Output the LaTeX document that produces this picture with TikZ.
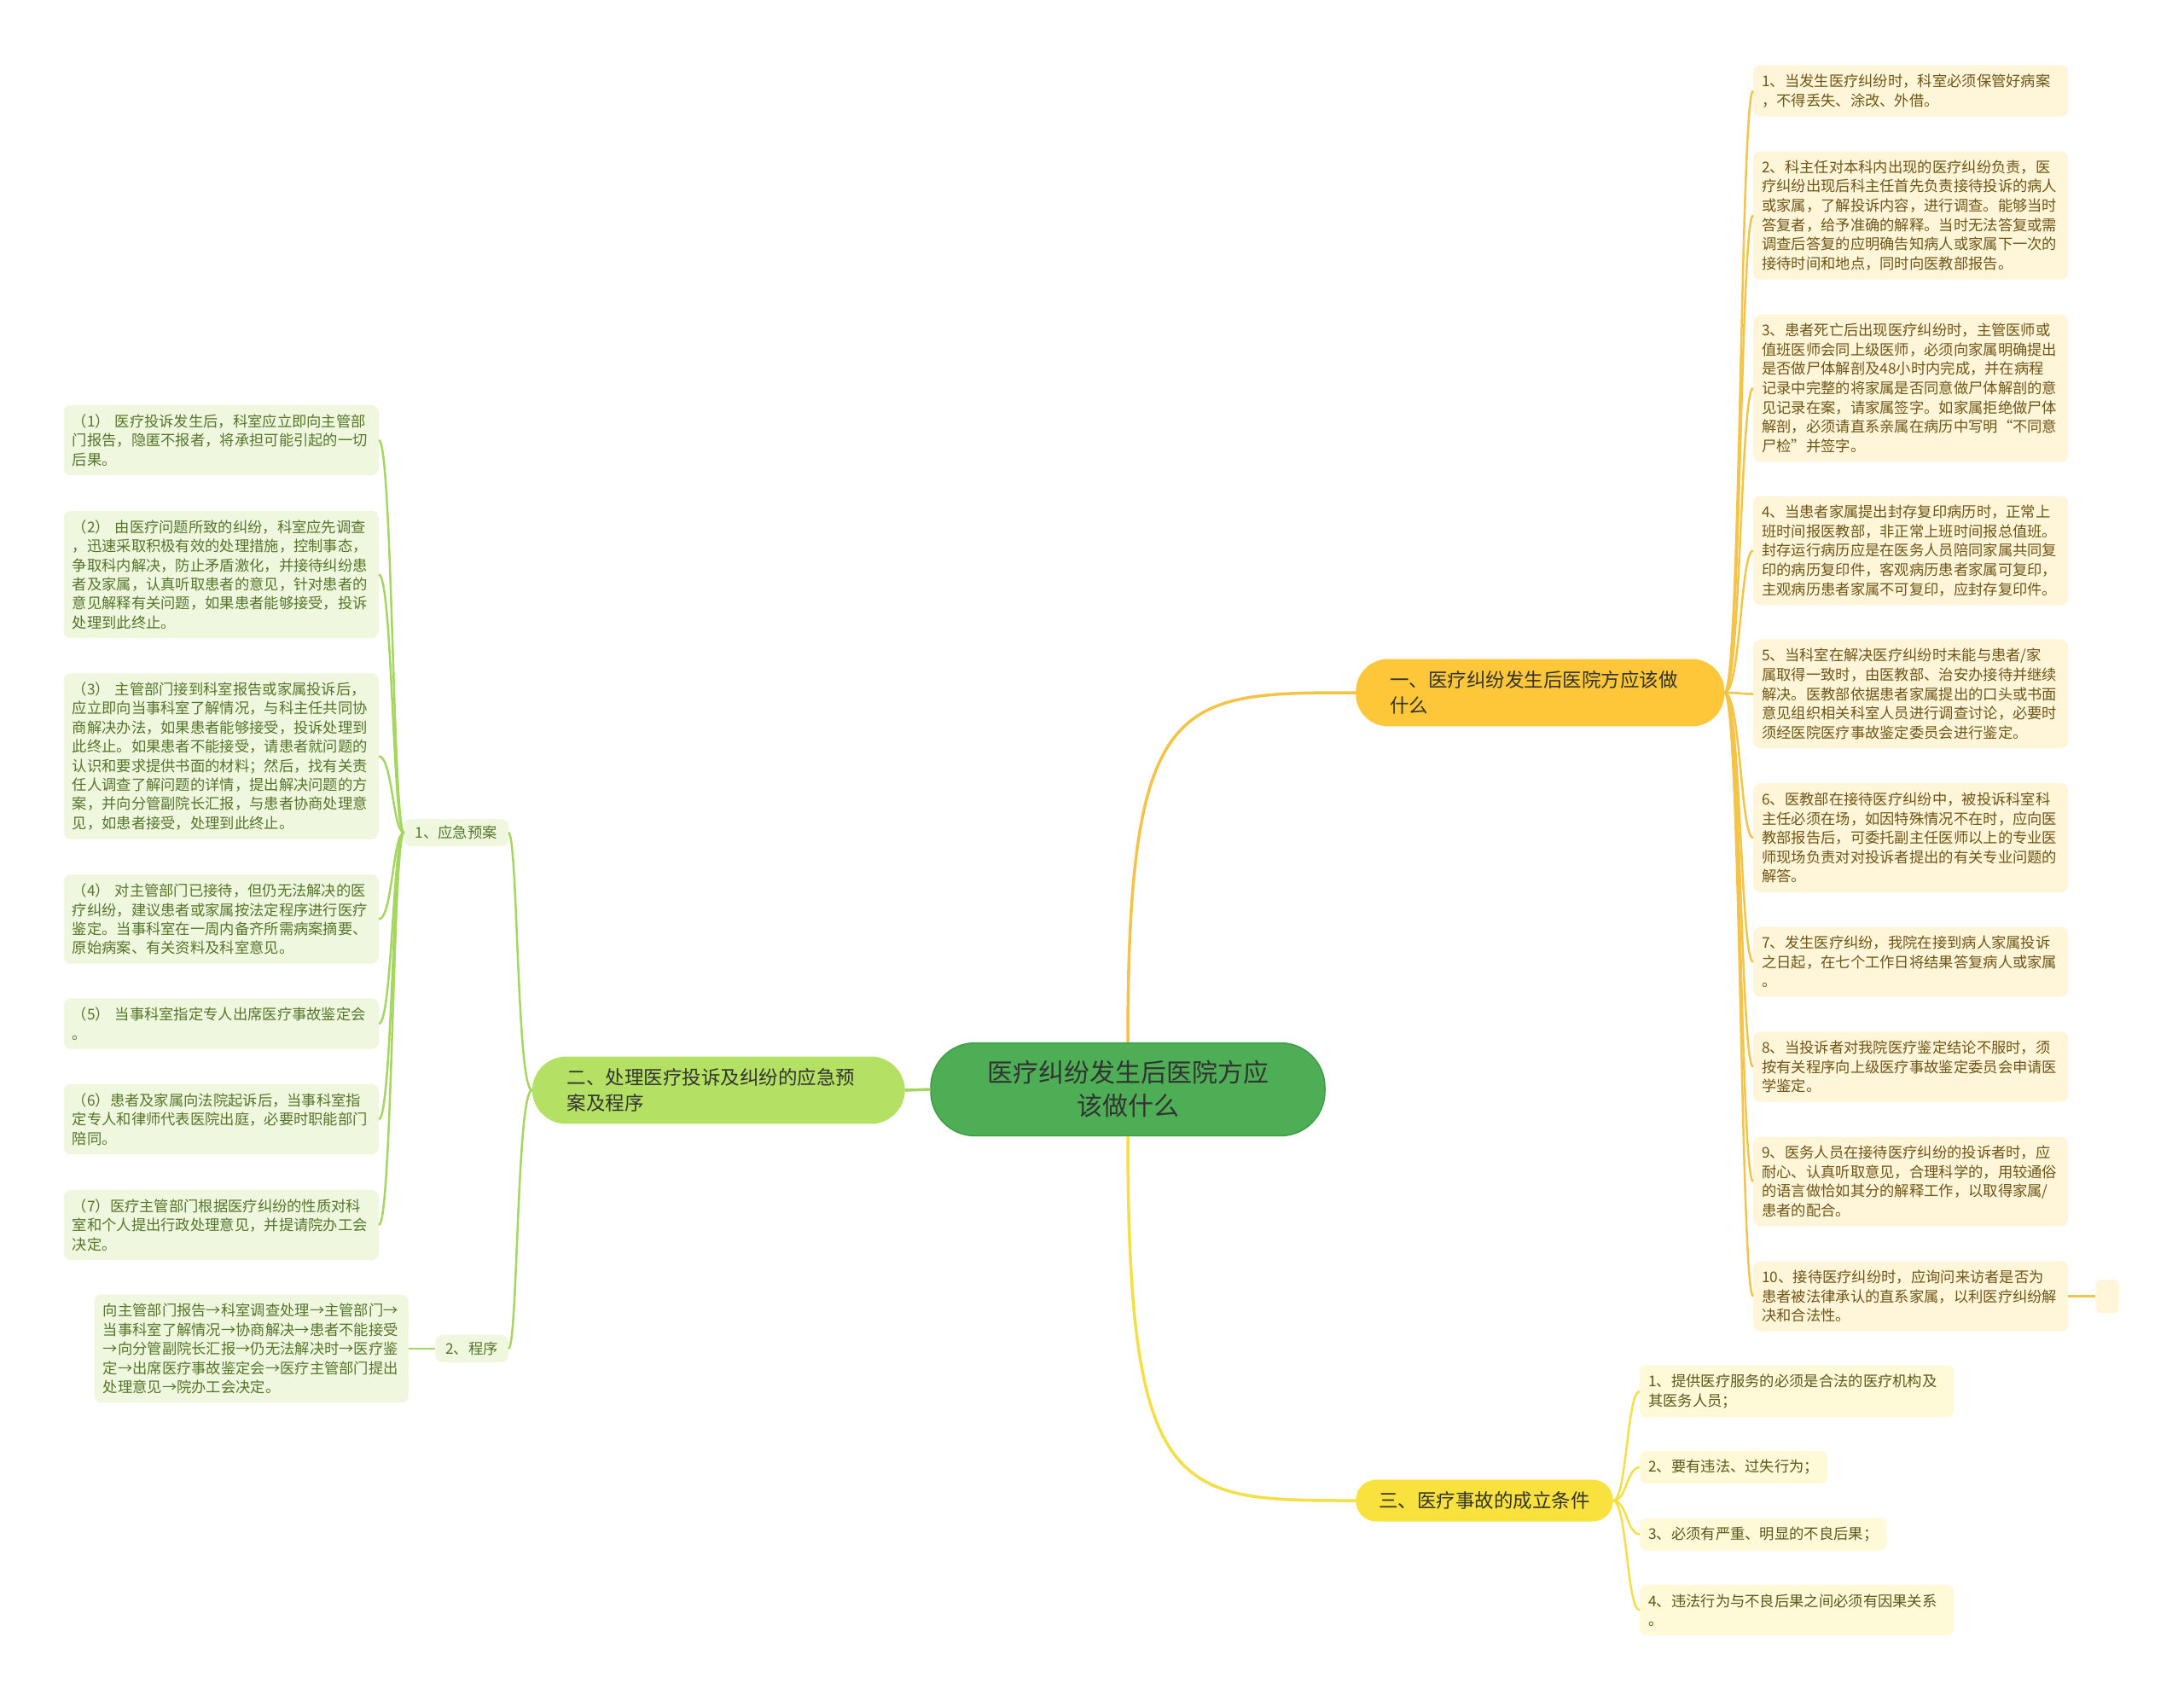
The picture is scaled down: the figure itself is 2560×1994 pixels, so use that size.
\documentclass[tikz,border=0pt]{standalone}
\usepackage{fontspec}
\newfontfamily\cjk{Noto Sans CJK SC}
\definecolor{rootgreen}{HTML}{4EAE55}
\definecolor{rootline}{HTML}{3F9C47}
\definecolor{bragreen}{HTML}{B4E163}
\definecolor{braorange}{HTML}{FEC73A}
\definecolor{brayellow}{HTML}{F9E23D}
\definecolor{leaforange}{HTML}{FFF5D9}
\definecolor{leafgreen}{HTML}{EFF8DE}
\definecolor{leafyellow}{HTML}{FEF9D6}
\definecolor{txtbrown}{HTML}{6E5616}
\definecolor{txtgreen}{HTML}{56752A}
\definecolor{txtolive}{HTML}{5B581C}
\definecolor{txtdark}{HTML}{333333}
\definecolor{lineorange}{HTML}{F3C447}
\definecolor{linegreen}{HTML}{A5D65F}
\definecolor{lineyellow}{HTML}{F4DF45}
\begin{document}
\begin{tikzpicture}[x=1pt,y=-1pt,
    rootbox/.style={fill=rootgreen,draw=rootline,line width=1.5pt,rounded corners=52pt,inner xsep=66pt,inner ysep=21pt,align=center,text=txtdark,font=\cjk\fontsize{30}{39}\selectfont},
    bra/.style={inner xsep=40pt,inner ysep=14pt,align=left,text=txtdark,font=\cjk\fontsize{22.5}{30}\selectfont},
    leafo/.style={anchor=west,fill=leaforange,text=txtbrown,rounded corners=8pt,inner xsep=10pt,inner ysep=10.5pt,text width=349pt,align=left,font=\cjk\fontsize{17.3}{22.6}\selectfont},
    leafg/.style={anchor=east,fill=leafgreen,text=txtgreen,rounded corners=8pt,inner xsep=10pt,inner ysep=10.5pt,align=left,font=\cjk\fontsize{17.3}{22.4}\selectfont},
    leafy/.style={anchor=west,fill=leafyellow,text=txtolive,rounded corners=8pt,inner xsep=10pt,inner ysep=10.5pt,align=left,font=\cjk\fontsize{17.3}{22.4}\selectfont},
    lineo/.style={draw=lineorange,line width=2.5pt},
    lineg/.style={draw=linegreen,line width=2.5pt},
    liney/.style={draw=lineyellow,line width=2.5pt}]
  \path[use as bounding box,fill=white] (0,0) rectangle (2560,1994);

  % root and main branches
  \node[rootbox] (root) at (1322,1277) {医疗纠纷发生后医院方应\\该做什么};
  \node[bra,anchor=west,fill=braorange,rounded corners=38pt,text width=352pt] (b1) at (1589,812) {一、医疗纠纷发生后医院方应该做\\什么};
  \node[bra,anchor=east,fill=bragreen,rounded corners=40pt,text width=355pt,inner xsep=41pt] (b2) at (1061,1278) {二、处理医疗投诉及纠纷的应急预\\案及程序};
  \node[bra,anchor=west,fill=brayellow,rounded corners=24pt,inner xsep=27pt] (b3) at (1589,1759) {三、医疗事故的成立条件};

  \draw[draw=lineorange,line width=3.5pt] (root.north) .. controls +(0,-409) and +(-209,0) .. (b1.west);
  \draw[draw=linegreen,line width=3.5pt] (root.west) -- (b2.east);
  \draw[draw=lineyellow,line width=3.5pt] (root.south) .. controls +(0,427) and +(-209,0) .. (b3.west);

  % right column
  \node[leafo] (r1) at (2055,106.5) {1、当发生医疗纠纷时，科室必须保管好病案\\，不得丢失、涂改、外借。};
  \node[leafo] (r2) at (2055,252.5) {2、科主任对本科内出现的医疗纠纷负责，医\\疗纠纷出现后科主任首先负责接待投诉的病人\\或家属，了解投诉内容，进行调查。能够当时\\答复者，给予准确的解释。当时无法答复或需\\调查后答复的应明确告知病人或家属下一次的\\接待时间和地点，同时向医教部报告。};
  \node[leafo] (r3) at (2055,455) {3、患者死亡后出现医疗纠纷时，主管医师或\\值班医师会同上级医师，必须向家属明确提出\\是否做尸体解剖及48小时内完成，并在病程\\记录中完整的将家属是否同意做尸体解剖的意\\见记录在案，请家属签字。如家属拒绝做尸体\\解剖，必须请直系亲属在病历中写明“不同意\\尸检”并签字。};
  \node[leafo] (r4) at (2055,645.5) {4、当患者家属提出封存复印病历时，正常上\\班时间报医教部，非正常上班时间报总值班。\\封存运行病历应是在医务人员陪同家属共同复\\印的病历复印件，客观病历患者家属可复印，\\主观病历患者家属不可复印，应封存复印件。};
  \node[leafo] (r5) at (2055,813.5) {5、当科室在解决医疗纠纷时未能与患者/家\\属取得一致时，由医教部、治安办接待并继续\\解决。医教部依据患者家属提出的口头或书面\\意见组织相关科室人员进行调查讨论，必要时\\须经医院医疗事故鉴定委员会进行鉴定。};
  \node[leafo] (r6) at (2055,982) {6、医教部在接待医疗纠纷中，被投诉科室科\\主任必须在场，如因特殊情况不在时，应向医\\教部报告后，可委托副主任医师以上的专业医\\师现场负责对对投诉者提出的有关专业问题的\\解答。};
  \node[leafo] (r7) at (2055,1127.5) {7、发生医疗纠纷，我院在接到病人家属投诉\\之日起，在七个工作日将结果答复病人或家属\\。};
  \node[leafo] (r8) at (2055,1250.5) {8、当投诉者对我院医疗鉴定结论不服时，须\\按有关程序向上级医疗事故鉴定委员会申请医\\学鉴定。};
  \node[leafo] (r9) at (2055,1385) {9、医务人员在接待医疗纠纷的投诉者时，应\\耐心、认真听取意见，合理科学的，用较通俗\\的语言做恰如其分的解释工作，以取得家属/\\患者的配合。};
  \node[leafo] (r10) at (2055,1519.5) {10、接待医疗纠纷时，应询问来访者是否为\\患者被法律承认的直系家属，以利医疗纠纷解\\决和合法性。};
  \node[fill=leaforange,rounded corners=6pt,minimum width=27pt,minimum height=39pt,inner sep=0pt] (re) at (2470,1519.5) {};

  \draw[lineo] (b1.east) .. controls +(19,0) and +(-15,0) .. (r1.west);
  \draw[lineo] (b1.east) .. controls +(19,0) and +(-15,0) .. (r2.west);
  \draw[lineo] (b1.east) .. controls +(19,0) and +(-15,0) .. (r3.west);
  \draw[lineo] (b1.east) .. controls +(19,0) and +(-15,0) .. (r4.west);
  \draw[lineo] (b1.east) .. controls +(19,0) and +(-15,0) .. (r5.west);
  \draw[lineo] (b1.east) .. controls +(19,0) and +(-15,0) .. (r6.west);
  \draw[lineo] (b1.east) .. controls +(19,0) and +(-15,0) .. (r7.west);
  \draw[lineo] (b1.east) .. controls +(19,0) and +(-15,0) .. (r8.west);
  \draw[lineo] (b1.east) .. controls +(19,0) and +(-15,0) .. (r9.west);
  \draw[lineo] (b1.east) .. controls +(19,0) and +(-15,0) .. (r10.west);
  \draw[lineo] (r10.east) -- (re.west);

  % left column
  \node[leafg,inner xsep=13pt,inner ysep=8pt] (yj) at (596,976) {1、应急预案};
  \node[leafg,inner xsep=12pt,inner ysep=8pt] (cx) at (596,1581) {2、程序};

  \node[leafg,text width=349pt] (l1) at (444,516) {（1） 医疗投诉发生后，科室应立即向主管部\\门报告，隐匿不报者，将承担可能引起的一切\\后果。};
  \node[leafg,text width=349pt] (l2) at (444,673.5) {（2） 由医疗问题所致的纠纷，科室应先调查\\，迅速采取积极有效的处理措施，控制事态，\\争取科内解决，防止矛盾激化，并接待纠纷患\\者及家属，认真听取患者的意见，针对患者的\\意见解释有关问题，如果患者能够接受，投诉\\处理到此终止。};
  \node[leafg,text width=349pt] (l3) at (444,886.5) {（3） 主管部门接到科室报告或家属投诉后，\\应立即向当事科室了解情况，与科主任共同协\\商解决办法，如果患者能够接受，投诉处理到\\此终止。如果患者不能接受，请患者就问题的\\认识和要求提供书面的材料；然后，找有关责\\任人调查了解问题的详情，提出解决问题的方\\案，并向分管副院长汇报，与患者协商处理意\\见，如患者接受，处理到此终止。};
  \node[leafg,text width=349pt] (l4) at (444,1077.5) {（4） 对主管部门已接待，但仍无法解决的医\\疗纠纷，建议患者或家属按法定程序进行医疗\\鉴定。当事科室在一周内备齐所需病案摘要、\\原始病案、有关资料及科室意见。};
  \node[leafg,text width=349pt] (l5) at (444,1200) {（5） 当事科室指定专人出席医疗事故鉴定会\\。};
  \node[leafg,text width=349pt] (l6) at (444,1312) {（6）患者及家属向法院起诉后，当事科室指\\定专人和律师代表医院出庭，必要时职能部门\\陪同。};
  \node[leafg,text width=349pt] (l7) at (444,1436) {（7）医疗主管部门根据医疗纠纷的性质对科\\室和个人提出行政处理意见，并提请院办工会\\决定。};
  \node[leafg,text width=348pt] (lc) at (479,1581) {向主管部门报告→科室调查处理→主管部门→\\当事科室了解情况→协商解决→患者不能接受\\→向分管副院长汇报→仍无法解决时→医疗鉴\\定→出席医疗事故鉴定会→医疗主管部门提出\\处理意见→院办工会决定。};

  \draw[lineg] (b2.west) .. controls +(-18,0) and +(11,0) .. (yj.east);
  \draw[lineg] (b2.west) .. controls +(-18,0) and +(11,0) .. (cx.east);
  \draw[lineg] (yj.west) .. controls +(-13,0) and +(16,0) .. (l1.east);
  \draw[lineg] (yj.west) .. controls +(-13,0) and +(16,0) .. (l2.east);
  \draw[lineg] (yj.west) .. controls +(-13,0) and +(16,0) .. (l3.east);
  \draw[lineg] (yj.west) .. controls +(-13,0) and +(16,0) .. (l4.east);
  \draw[lineg] (yj.west) .. controls +(-13,0) and +(16,0) .. (l5.east);
  \draw[lineg] (yj.west) .. controls +(-13,0) and +(16,0) .. (l6.east);
  \draw[lineg] (yj.west) .. controls +(-13,0) and +(16,0) .. (l7.east);
  \draw[lineg] (cx.west) -- (lc.east);

  % bottom right
  \node[leafy,text width=348pt] (c1) at (1922,1631) {1、提供医疗服务的必须是合法的医疗机构及\\其医务人员；};
  \node[leafy] (c2) at (1922,1720) {2、要有违法、过失行为；};
  \node[leafy] (c3) at (1922,1798.5) {3、必须有严重、明显的不良后果；};
  \node[leafy,text width=348pt] (c4) at (1922,1887.5) {4、违法行为与不良后果之间必须有因果关系\\。};

  \draw[liney] (b3.east) .. controls +(16,0) and +(-15,0) .. (c1.west);
  \draw[liney] (b3.east) .. controls +(16,0) and +(-15,0) .. (c2.west);
  \draw[liney] (b3.east) .. controls +(16,0) and +(-15,0) .. (c3.west);
  \draw[liney] (b3.east) .. controls +(16,0) and +(-15,0) .. (c4.west);
\end{tikzpicture}
\end{document}
